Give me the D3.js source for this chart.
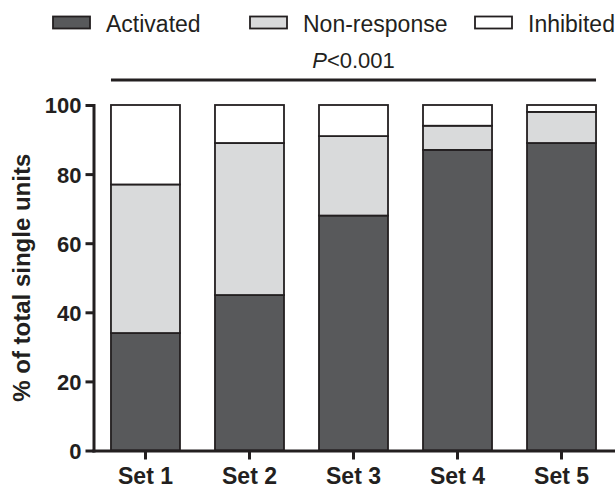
<!DOCTYPE html>
<html>
<head>
<meta charset="utf-8">
<script src="https://cdn.jsdelivr.net/npm/d3@7"></script>
<style>
  html, body { margin: 0; padding: 0; background: #fff; }
  svg { display: block; font-family: 'Liberation Sans', Arial, sans-serif; }
  .axis path, .axis line { stroke: #231f20; stroke-width: 3; }
  .axis text { fill: #231f20; font-weight: bold; }
</style>
</head>
<body>
<div id="chart"></div>
<script>
document.addEventListener('DOMContentLoaded', e => {
  // data (percent of single units)
  const sets = ['Set 1', 'Set 2', 'Set 3', 'Set 4', 'Set 5'];
  const activated = [34, 45, 68, 87, 89];
  const nonResponse = [43, 44, 23, 7, 9];
  const inhibited = [23, 11, 9, 6, 2];
  const yTicks = [0, 20, 40, 60, 80, 100];
  const seriesNames = ['Activated', 'Non-response', 'Inhibited'];
  const pText = '<0.001';

  const svgWidth = 615,
        svgHeight = 488;
  const ink = '#231f20';
  const colors = ['#58595b', '#d9dadb', '#ffffff'];

  const svg = d3.select('#chart')
                .append('svg')
                .attr('width', svgWidth)
                .attr('height', svgHeight);

  const rows = sets.map((s, i) => ({
    set: s,
    'Activated': activated[i],
    'Non-response': nonResponse[i],
    'Inhibited': inhibited[i]
  }));

  // scales
  const x = d3.scaleBand()
              .domain(sets)
              .range([93.5, 613.5])
              .paddingInner(0.3365)
              .paddingOuter(0.168);
  const y = d3.scaleLinear()
              .domain([0, 100])
              .range([450.5, 105]);
  const color = d3.scaleOrdinal()
                  .domain(seriesNames)
                  .range(colors);

  // stacked bars
  const stacked = d3.stack().keys(seriesNames)(rows);

  svg.append('g')
     .selectAll('g')
     .data(stacked)
     .enter()
     .append('g')
     .attr('fill', d => color(d.key))
     .selectAll('rect')
     .data(d => d)
     .enter()
     .append('rect')
     .attr('x', d => x(d.data.set))
     .attr('y', d => y(d[1]))
     .attr('width', x.bandwidth())
     .attr('height', d => y(d[0]) - y(d[1]))
     .attr('stroke', ink)
     .attr('stroke-width', 1.8);

  // y axis
  svg.append('g')
     .attr('class', 'axis')
     .attr('transform', `translate(${x.range()[0]},0)`)
     .call(d3.axisLeft(y)
             .tickValues(yTicks)
             .tickSize(8)
             .tickSizeOuter(0)
             .tickPadding(4))
     .selectAll('text')
     .style('font-size', '22px')
     .attr('dy', '0.36em');

  // x axis
  svg.append('g')
     .attr('class', 'axis')
     .attr('transform', `translate(0,${y(0)})`)
     .call(d3.axisBottom(x)
             .tickSize(9)
             .tickSizeOuter(0)
             .tickPadding(8))
     .selectAll('text')
     .style('font-size', '23px');

  svg.selectAll('.axis path').attr('stroke-linecap', 'square');

  // y axis title
  svg.append('text')
     .attr('transform', `translate(30,${(y(0) + y(100)) / 2}) rotate(-90)`)
     .attr('text-anchor', 'middle')
     .attr('fill', ink)
     .style('font-size', '24px')
     .style('font-weight', 'bold')
     .text('% of total single units');

  // significance bar
  const x0 = x(sets[0]),
        x1 = x(sets[sets.length - 1]) + x.bandwidth();
  svg.append('line')
     .attr('x1', x0)
     .attr('x2', x1)
     .attr('y1', 80)
     .attr('y2', 80)
     .attr('stroke', ink)
     .attr('stroke-width', 3);

  const pLabel = svg.append('text')
                    .attr('x', (x0 + x1) / 2)
                    .attr('y', 68)
                    .attr('text-anchor', 'middle')
                    .attr('fill', ink)
                    .style('font-size', '22px');
  pLabel.append('tspan').style('font-style', 'italic').text('P');
  pLabel.append('tspan').text(pText);

  // legend
  const legendX = [53, 250, 475];
  const legend = svg.append('g')
                    .selectAll('g')
                    .data(seriesNames)
                    .enter()
                    .append('g')
                    .attr('transform', (d, i) => `translate(${legendX[i]},0)`);

  legend.append('rect')
        .attr('x', 0)
        .attr('y', 16.5)
        .attr('width', 37)
        .attr('height', 12)
        .attr('fill', d => color(d))
        .attr('stroke', ink)
        .attr('stroke-width', 1.8);

  legend.append('text')
        .attr('x', 53)
        .attr('y', 32)
        .attr('fill', ink)
        .style('font-size', '23px')
        .text(d => d);
});
</script>
</body>
</html>
